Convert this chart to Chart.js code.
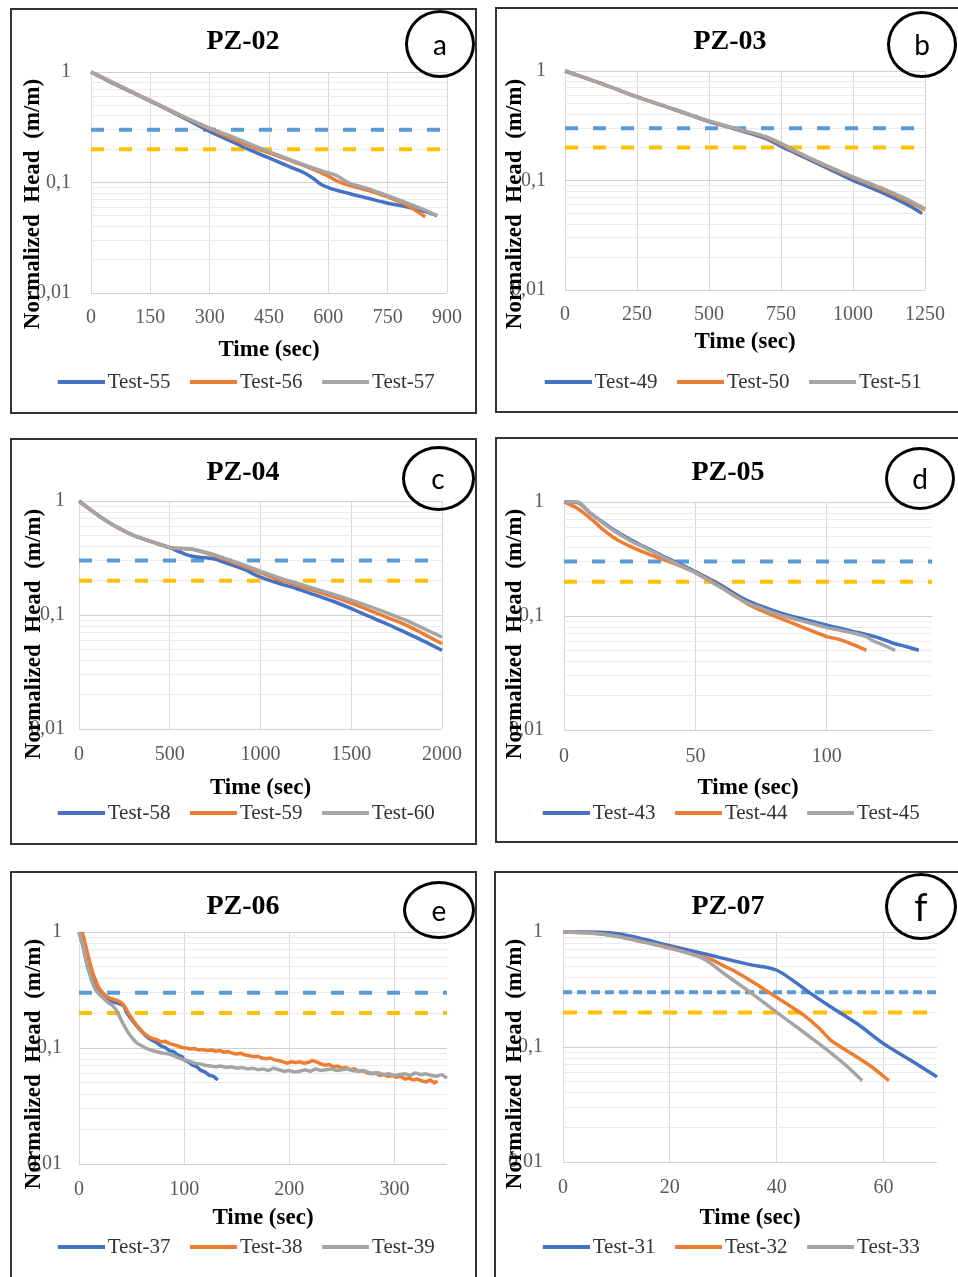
<!DOCTYPE html>
<html><head><meta charset="utf-8">
<script src="https://cdn.jsdelivr.net/npm/chart.js@4.4.1/dist/chart.umd.min.js"></script>
<style>
html,body{margin:0;padding:0;background:#fff;}
body{width:958px;height:1277px;position:relative;overflow:hidden;}
canvas{position:absolute;}
.frame{position:absolute;border:2px solid #333;box-sizing:border-box;pointer-events:none;}
.ytitle{position:absolute;font:bold 23px 'Liberation Serif';white-space:pre;transform:translate(-50%,-50%) rotate(-90deg);color:#000;line-height:1;}
.tag{position:absolute;box-sizing:border-box;border:3px solid #000;border-radius:50%;display:flex;align-items:center;justify-content:center;font:28px Lato;color:#000;line-height:1;}
</style></head><body>
<script>
// ---------- shared axis data ----------
const yGridValues = [0.01,0.02,0.03,0.04,0.05,0.06,0.07,0.08,0.09,0.1,0.2,0.3,0.4,0.5,0.6,0.7,0.8,0.9,1];
const yLabelValues = [1, 0.1, 0.01];
const yTickLabels = ['1', '0,1', '0,01'];
const thresholdBlue = 0.3;
const thresholdGold = 0.2;
const xAxisTitle = 'Time (sec)';
const yAxisTitle = 'Normalized  Head  (m/m)';

// ---------- (a) PZ-02 ----------
const test55_t = [0,50,100,150,200,250,300,350,400,450,500,540,565,580,600,650,700,750,800,850,875];
const test55_h = [1,0.81,0.665,0.545,0.445,0.36,0.29,0.24,0.198,0.167,0.14,0.122,0.107,0.097,0.09,0.08,0.072,0.065,0.06,0.054,0.05];
const test56_t = [0,50,100,150,200,250,300,350,400,450,500,550,600,620,650,700,750,800,845];
const test56_h = [1,0.82,0.67,0.55,0.45,0.37,0.305,0.255,0.215,0.185,0.16,0.137,0.114,0.104,0.095,0.085,0.074,0.062,0.049];
const test57_t = [0,50,100,150,200,250,300,350,400,450,500,550,600,620,650,700,750,800,850,875];
const test57_h = [1,0.82,0.67,0.55,0.45,0.37,0.31,0.265,0.225,0.19,0.163,0.14,0.122,0.116,0.1,0.088,0.076,0.065,0.055,0.05];

// ---------- (b) PZ-03 ----------
const test49_t = [0,125,250,375,500,600,700,750,800,900,1000,1100,1200,1240];
const test49_h = [1,0.77,0.58,0.45,0.345,0.29,0.24,0.205,0.178,0.134,0.1,0.078,0.058,0.05];
const test50_t = [0,125,250,375,500,600,700,760,800,900,1000,1100,1200,1250];
const test50_h = [1,0.77,0.58,0.45,0.348,0.293,0.247,0.208,0.183,0.138,0.106,0.083,0.063,0.054];
const test51_t = [0,125,250,375,500,600,700,760,800,900,1000,1100,1200,1250];
const test51_h = [1,0.77,0.58,0.45,0.35,0.295,0.25,0.212,0.186,0.14,0.108,0.085,0.065,0.055];

// ---------- (c) PZ-04 ----------
const test58_t = [0,100,200,300,400,500,550,600,650,700,750,800,900,1000,1100,1200,1300,1400,1500,1600,1700,1800,1900,2000];
const test58_h = [1,0.76,0.6,0.5,0.44,0.39,0.36,0.335,0.322,0.318,0.31,0.29,0.255,0.215,0.19,0.17,0.15,0.132,0.114,0.097,0.083,0.07,0.059,0.049];
const test59_t = [0,100,200,300,400,500,560,620,700,800,900,1000,1100,1200,1300,1400,1500,1600,1700,1800,1900,2000];
const test59_h = [1,0.76,0.6,0.5,0.44,0.39,0.382,0.378,0.35,0.31,0.27,0.235,0.205,0.183,0.163,0.145,0.127,0.11,0.095,0.082,0.068,0.056];
const test60_t = [0,100,200,300,400,500,560,620,700,800,900,1000,1100,1200,1300,1400,1500,1600,1700,1800,1900,2000];
const test60_h = [1,0.76,0.6,0.5,0.44,0.39,0.385,0.38,0.355,0.315,0.278,0.243,0.213,0.19,0.17,0.152,0.135,0.119,0.104,0.09,0.076,0.064];

// ---------- (d) PZ-05 ----------
const test43_t = [0,5,10,15,20,25,30,35,40,45,50,55,60,65,70,75,80,85,90,95,100,105,110,115,120,125,130,135];
const test43_h = [1,0.99,0.8,0.66,0.55,0.47,0.41,0.36,0.315,0.28,0.245,0.213,0.185,0.157,0.136,0.122,0.111,0.102,0.095,0.089,0.083,0.078,0.073,0.069,0.064,0.058,0.054,0.05];
const test44_t = [0,5,10,15,20,25,30,35,40,45,50,55,60,65,70,75,80,85,90,95,100,105,110,115];
const test44_h = [1,0.88,0.72,0.57,0.47,0.41,0.365,0.33,0.3,0.27,0.24,0.208,0.178,0.15,0.127,0.112,0.1,0.09,0.081,0.073,0.066,0.062,0.056,0.05];
const test45_t = [0,5,10,15,20,25,30,35,40,45,50,55,60,65,70,75,80,85,90,95,100,105,110,115,118,122,126];
const test45_h = [1,1,0.8,0.65,0.54,0.46,0.405,0.355,0.31,0.273,0.24,0.205,0.176,0.15,0.13,0.117,0.106,0.098,0.091,0.085,0.079,0.075,0.071,0.066,0.06,0.055,0.05];

// ---------- (e) PZ-06 ----------
const test37_t = [0,2,4,6,8,10,12,14,16,18,20,23,26,29,32,35,38,41,43,45,48,51,54,57,60,63,66,70,74,78,82,86,90,94,98,100,104,108,112,116,120,124,128,132];
const test37_h = [1,0.87,0.74,0.62,0.52,0.45,0.4,0.36,0.33,0.31,0.295,0.28,0.268,0.258,0.25,0.246,0.241,0.236,0.228,0.205,0.186,0.171,0.158,0.147,0.138,0.129,0.122,0.116,0.111,0.104,0.101,0.095,0.093,0.087,0.084,0.079,0.076,0.071,0.069,0.064,0.062,0.058,0.057,0.053];
const test38_t = [3,5,7,9,11,13,15,17,19,21,24,27,30,33,36,39,42,45,48,51,54,57,60,63,66,70,74,78,82,86,90,94,98,102,106,110,114,118,122,126,130,134,138,142,146,150,154,158,162,166,170,174,178,182,186,190,194,198,202,206,210,214,218,222,226,230,234,238,242,246,250,254,258,262,266,270,274,278,282,286,290,294,298,302,306,310,314,318,322,326,330,334,338,341];
const test38_h = [1,0.86,0.72,0.61,0.52,0.45,0.4,0.36,0.33,0.31,0.29,0.275,0.268,0.262,0.257,0.25,0.238,0.215,0.193,0.176,0.161,0.149,0.139,0.131,0.125,0.121,0.118,0.113,0.114,0.109,0.107,0.104,0.101,0.1,0.098,0.099,0.096,0.097,0.095,0.096,0.094,0.095,0.092,0.093,0.09,0.089,0.09,0.087,0.086,0.084,0.085,0.082,0.081,0.082,0.079,0.078,0.076,0.074,0.076,0.075,0.076,0.074,0.075,0.078,0.076,0.073,0.071,0.072,0.069,0.07,0.067,0.068,0.065,0.066,0.063,0.064,0.061,0.06,0.061,0.058,0.059,0.057,0.058,0.056,0.057,0.054,0.055,0.053,0.054,0.052,0.051,0.053,0.05,0.052];
const test39_t = [0,2,4,6,8,10,12,14,16,18,20,23,26,29,32,35,38,41,44,47,50,53,56,60,64,68,72,76,80,85,90,95,100,105,110,115,120,125,130,135,140,145,150,155,160,165,170,175,180,185,190,195,200,205,210,215,220,225,230,235,240,245,250,255,260,265,270,275,280,285,290,295,300,305,310,315,320,325,330,335,340,345,350];
const test39_h = [1,0.86,0.74,0.6,0.5,0.44,0.38,0.34,0.315,0.298,0.285,0.27,0.255,0.242,0.232,0.215,0.19,0.168,0.15,0.135,0.124,0.115,0.109,0.104,0.099,0.096,0.094,0.092,0.09,0.089,0.086,0.082,0.079,0.077,0.074,0.073,0.071,0.07,0.069,0.07,0.068,0.069,0.067,0.068,0.066,0.067,0.065,0.066,0.064,0.067,0.065,0.063,0.064,0.062,0.063,0.065,0.063,0.066,0.064,0.065,0.066,0.064,0.065,0.066,0.064,0.063,0.064,0.062,0.06,0.061,0.059,0.06,0.058,0.059,0.06,0.058,0.061,0.059,0.06,0.058,0.057,0.059,0.055];

// ---------- (f) PZ-07 ----------
const test31_t = [0,5,8,10,15,20,25,30,35,40,43,46,50,55,60,65,70];
const test31_h = [1,1,0.99,0.97,0.87,0.76,0.67,0.59,0.52,0.465,0.38,0.3,0.225,0.16,0.107,0.077,0.055];
const test32_t = [0,5,10,15,20,25,28,30,32,35,38,40,42,45,48,50,52,55,58,61];
const test32_h = [1,0.98,0.92,0.82,0.73,0.625,0.57,0.51,0.46,0.38,0.31,0.27,0.235,0.19,0.145,0.116,0.1,0.082,0.066,0.051];
const test33_t = [0,5,10,15,20,25,27,30,35,40,45,50,53,56];
const test33_h = [1,0.98,0.92,0.82,0.72,0.62,0.56,0.44,0.3,0.2,0.135,0.09,0.069,0.051];

// ---------- panel definitions ----------
const panels = [
  {id:'a', title:'PZ-02', names:['Test-55','Test-56','Test-57'], t:[test55_t,test56_t,test57_t], h:[test55_h,test56_h,test57_h], xMax:900, xStep:150},
  {id:'b', title:'PZ-03', names:['Test-49','Test-50','Test-51'], t:[test49_t,test50_t,test51_t], h:[test49_h,test50_h,test51_h], xMax:1250, xStep:250},
  {id:'c', title:'PZ-04', names:['Test-58','Test-59','Test-60'], t:[test58_t,test59_t,test60_t], h:[test58_h,test59_h,test60_h], xMax:2000, xStep:500},
  {id:'d', title:'PZ-05', names:['Test-43','Test-44','Test-45'], t:[test43_t,test44_t,test45_t], h:[test43_h,test44_h,test45_h], xMax:140, xStep:50},
  {id:'e', title:'PZ-06', names:['Test-37','Test-38','Test-39'], t:[test37_t,test38_t,test39_t], h:[test37_h,test38_h,test39_h], xMax:350, xStep:100},
  {id:'f', title:'PZ-07', names:['Test-31','Test-32','Test-33'], t:[test31_t,test32_t,test33_t], h:[test31_h,test32_h,test33_h], xMax:70, xStep:20}
];

// ---------- layout (page pixels) ----------
const geom = {
  a:{box:[10,8,477,414], cr:477, plot:[91,72,447,293], titleCx:243, titleCy:42, xtickCy:318, xtitleCy:350, legendCy:382, ytickPad:20, ytitle:[31,204], circle:[440,44,70,68], smooth:true, dash:[[13,15],[13,15]], tagSize:28},
  b:{box:[495,7,962,413], cr:958, plot:[565,71,928,290], titleCx:730, titleCy:42, xtickCy:315, xtitleCy:342, legendCy:382, ytickPad:19, ytitle:[513,204], circle:[922,44,70,67], smooth:true, dash:[[13,15],[13,15]], tagSize:28},
  c:{box:[10,438,477,845], cr:477, plot:[79,501,442,729], titleCx:243, titleCy:473, xtickCy:755, xtitleCy:788, legendCy:813, ytickPad:14, ytitle:[32,634], circle:[438,478,73,65], smooth:true, dash:[[13,15],[13,15]], tagSize:28},
  d:{box:[495,437,962,843], cr:958, plot:[564,502,932,730], titleCx:728, titleCy:473, xtickCy:757, xtitleCy:788, legendCy:813, ytickPad:20, ytitle:[513,634], circle:[920,478,70,63], smooth:true, dash:[[13,15],[13,15]], tagSize:28},
  e:{box:[10,871,477,1300], cr:477, plot:[79,932,447,1164], titleCx:243, titleCy:907, xtickCy:1190, xtitleCy:1218, legendCy:1247, ytickPad:17, ytitle:[32,1064], circle:[439,910,72,58], smooth:false, dash:[[13,15],[13,15]], tagSize:28},
  f:{box:[494,871,962,1300], cr:958, plot:[563,932,937,1162], titleCx:728, titleCy:907, xtickCy:1188, xtitleCy:1218, legendCy:1247, ytickPad:20, ytitle:[513,1064], circle:[921,906,72,67], smooth:true, dash:[[9,5],[14,11]], tagSize:38}
};

const seriesColors = ['#4472C4', '#ED7D31', '#A5A5A5'];
const refColors = ['#5B9BD5', '#FFC000'];
const FONT = 'Liberation Serif';

const LF = 21, LP = 13, LBW = 46, HALF_BOX = 220;
function legendImg(color){
  const c = document.createElement('canvas');
  c.width = LBW + 15; c.height = 4;
  const x = c.getContext('2d');
  x.fillStyle = color;
  x.fillRect(c.width - 47, 0, 47, 4);
  return c;
}

function build(p){
  const g = geom[p.id];
  const [bl,bt,br,bb] = g.box;
  const W = g.cr - bl, H = bb - bt;
  const [pl,pt,pr,pb] = g.plot;

  const fr = document.createElement('div');
  fr.className = 'frame';
  Object.assign(fr.style, {left:bl+'px', top:bt+'px', width:(br-bl)+'px', height:(bb-bt)+'px'});

  const cv = document.createElement('canvas');
  cv.width = W; cv.height = H;
  cv.style.left = bl+'px'; cv.style.top = bt+'px';
  document.body.appendChild(cv);
  document.body.appendChild(fr);

  // title/legend box spans [boxL, boxR] (page), centred on the title
  const boxL = g.titleCx - HALF_BOX, boxR = g.titleCx + HALF_BOX;
  const padL = boxL - bl, padR = g.cr - boxR;
  const yW = pl - boxL, rW = boxR - pr;
  const TF = 28, TLH = TF*1.2;
  const titlePadTop = g.titleCy - bt - TLH/2;
  const titlePadBot = (pt - bt) - titlePadTop - TLH;
  const legH = LF + LP + 10;
  const legTop = g.legendCy - (LP + LF/2);
  const padB = bb - legTop - legH;
  const xH = legTop - pb;
  const XF = 23, XLH = XF*1.2;
  const xTitlePadBot = legTop - g.xtitleCy - XLH/2;
  const xTickPad = g.xtickCy - pb - 12;

  const datasets = p.names.map((n,i)=>({
    label:n,
    data:p.t[i].map((x,k)=>({x:x, y:p.h[i][k]})),
    borderColor:seriesColors[i], backgroundColor:seriesColors[i],
    borderWidth:3.5, pointRadius:0, fill:false,
    tension: g.smooth ? 0.4 : 0,
    cubicInterpolationMode: g.smooth ? 'monotone' : 'default',
    order: 2-i, clip: 4
  }));
  [thresholdBlue, thresholdGold].forEach((v,j)=>{
    datasets.push({
      label:'ref'+j,
      data:[{x:0,y:v},{x:p.xMax,y:v}],
      borderColor:refColors[j], borderWidth:4, borderDash:g.dash[j],
      pointRadius:0, fill:false, order:3+j
    });
  });

  new Chart(cv, {
    type:'line',
    data:{datasets},
    options:{
      responsive:false, animation:false, devicePixelRatio:1, events:[],
      layout:{padding:{left:padL, right:padR, top:0, bottom:padB}},
      plugins:{
        tooltip:{enabled:false},
        title:{display:true, text:p.title, color:'#000',
          font:{family:FONT, size:TF, weight:'bold', lineHeight:1.2},
          padding:{top:titlePadTop, bottom:titlePadBot}},
        legend:{display:true, position:'bottom',
          labels:{
            usePointStyle:true, pointStyleWidth:LBW, padding:LP, color:'#333',
            font:{family:FONT, size:LF},
            generateLabels(chart){
              const items = Chart.defaults.plugins.legend.labels.generateLabels(chart)
                .filter(it=>it.datasetIndex<3)
                .sort((a,b)=>a.datasetIndex-b.datasetIndex);
              items.forEach(it=>{ it.pointStyle = legendImg(seriesColors[it.datasetIndex]); it.lineWidth = 0; });
              return items;
            }
          }
        }
      },
      scales:{
        x:{type:'linear', min:0, max:p.xMax,
          afterFit:s=>{ s.height = xH; },
          ticks:{stepSize:p.xStep, includeBounds:false, autoSkip:false, maxRotation:0, padding:xTickPad,
            color:'#595959', font:{family:FONT, size:20, lineHeight:1.2},
            callback:v=>String(v)},
          grid:{color:'#d9d9d9', drawTicks:false, lineWidth:1},
          border:{display:false},
          title:{display:true, text:xAxisTitle, color:'#000',
            font:{family:FONT, size:XF, weight:'bold', lineHeight:1.2},
            padding:{top:0, bottom:xTitlePadBot}}
        },
        y:{type:'logarithmic', min:0.01, max:1,
          afterFit:s=>{ s.width = yW; },
          afterBuildTicks:s=>{ s.ticks = yGridValues.map(v=>({value:v})); },
          ticks:{autoSkip:false, padding:g.ytickPad, color:'#595959',
            font:{family:FONT, size:20, lineHeight:1.2},
            callback:v=>{ const k = yLabelValues.indexOf(v); return k>=0 ? yTickLabels[k] : ''; }},
          grid:{drawTicks:false, lineWidth:1,
            color:c=>(c.tick && yLabelValues.includes(c.tick.value)) ? '#d0d0d0' : '#ebebeb'},
          border:{display:false}
        },
        yR:{type:'linear', axis:'y', position:'right', display:true,
          afterFit:s=>{ s.width = rW; },
          ticks:{display:false}, grid:{display:false, drawTicks:false}, border:{display:false}
        }
      }
    }
  });

  const yt = document.createElement('div');
  yt.className = 'ytitle';
  yt.textContent = yAxisTitle;
  yt.style.left = g.ytitle[0]+'px'; yt.style.top = g.ytitle[1]+'px';
  document.body.appendChild(yt);

  const [cx,cy,cw,ch] = g.circle;
  const tg = document.createElement('div');
  tg.className = 'tag';
  tg.textContent = p.id;
  Object.assign(tg.style, {left:(cx-cw/2)+'px', top:(cy-ch/2)+'px', width:cw+'px', height:ch+'px', fontSize:g.tagSize+'px'});
  document.body.appendChild(tg);
}

panels.forEach(build);
</script>
</body></html>
